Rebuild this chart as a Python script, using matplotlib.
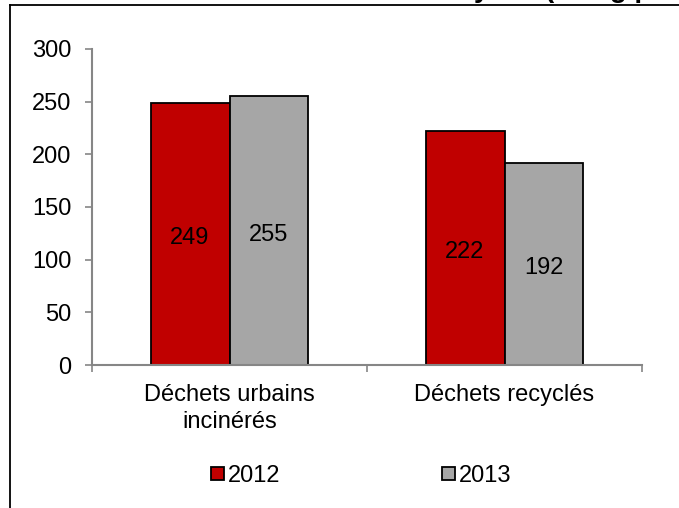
import numpy as np
import matplotlib
matplotlib.use("Agg")
import matplotlib.pyplot as plt
from matplotlib.lines import Line2D

plt.rcParams['font.family'] = ['Liberation Sans', 'DejaVu Sans']

# data
categories = ['Déchets urbains\nincinérés', 'Déchets recyclés']
years = ['2012', '2013']
values_2012 = [249, 222]
values_2013 = [255, 192]
colors = ['#C00000', '#A6A6A6']
title_start = 'Ratios moyens '
title_end = '(en kg par habitant)'

W, H = 679, 508
fig = plt.figure(figsize=(W / 100, H / 100), dpi=100)
ax = fig.add_axes([92 / W, 1 - 365 / H, 550 / W, 316 / H])

x = np.arange(len(categories))
bw = 0.287
series = [values_2012, values_2013]
for i, (vals, col, yr) in enumerate(zip(series, colors, years)):
    pos = x + (i - 0.5) * bw
    bars = ax.bar(pos, vals, width=bw, color=col, edgecolor='black',
                  linewidth=1.3, label=yr, zorder=2)
    for b, v in zip(bars, vals):
        ax.annotate(str(v), (b.get_x() + b.get_width() / 2, v / 2),
                    xytext=(0, -3), textcoords='offset points',
                    ha='center', va='center', fontsize=17, color='black')

ax.set_xlim(-0.5, len(categories) - 0.5)
ax.set_ylim(0, 300)
ax.set_yticks(range(0, 301, 50))
ax.tick_params(axis='y', labelsize=17, length=5, width=1.2, color='#868686',
               pad=10)

ax.set_xticks(x)
ax.set_xticklabels(categories, fontsize=17, linespacing=1.25)
ax.tick_params(axis='x', which='major', length=0, pad=14)
ax.set_xticks([-0.5, 0.5, 1.5], minor=True)
ax.tick_params(axis='x', which='minor', length=5, width=1.2, color='#868686')

for s in ['top', 'right']:
    ax.spines[s].set_visible(False)
for s in ['left', 'bottom']:
    ax.spines[s].set_color('#868686')
    ax.spines[s].set_linewidth(1.5)

handles, labels = ax.get_legend_handles_labels()
fig.legend(handles, labels, loc='center', ncol=2,
           bbox_to_anchor=(361 / W, 1 - 476 / H), frameon=False,
           fontsize=17, handlelength=0.55, handleheight=0.5,
           handletextpad=0.15, columnspacing=6.85, borderpad=0)

# chart frame (only left and top edges visible)
fig.add_artist(Line2D([9.5 / W, 9.5 / W], [0, 1 - 5 / H], transform=fig.transFigure,
                      color='black', linewidth=1.3))
fig.add_artist(Line2D([9.5 / W, 1], [1 - 5 / H, 1 - 5 / H], transform=fig.transFigure,
                      color='black', linewidth=1.3))

# title cut off at top of picture: line "(" up with x=545 px
renderer = fig.canvas.get_renderer()
probe = fig.text(0, 0, title_start.replace(' ', '\u00a0'), fontsize=20,
                 fontweight='bold')
start_w = probe.get_window_extent(renderer).width
probe.remove()
fig.text((545 - start_w) / W, 1 + 3 / H, title_start + title_end, fontsize=20,
         fontweight='bold', ha='left', va='baseline')

fig.savefig('out.png', dpi=100)
